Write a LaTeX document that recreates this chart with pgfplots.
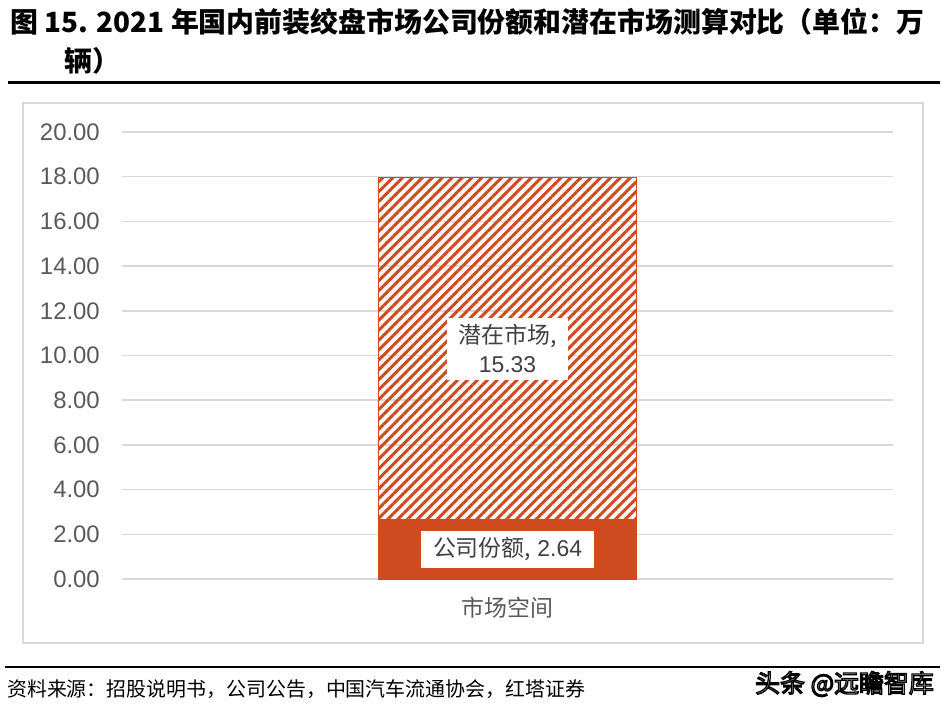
\documentclass[border=0pt]{standalone}
\usepackage{pgfplots}
\pgfplotsset{compat=1.18}
\usepackage{fontspec}
\setmainfont{Liberation Sans}
\newfontfamily\cjk{Noto Sans CJK SC}
\usetikzlibrary{patterns.meta}
\definecolor{barc}{RGB}{207,74,30}
\definecolor{gridc}{RGB}{217,217,217}
\definecolor{txt}{RGB}{89,89,89}
\definecolor{lbl}{RGB}{64,64,64}
\begin{document}
\begin{tikzpicture}
\useasboundingbox (0,0) rectangle (950bp,-709bp);
% title
\node[anchor=west, inner sep=0pt, font=\cjk\bfseries\fontsize{28}{28}\selectfont] at (10bp,-22bp) {图 15. 2021 年国内前装绞盘市场公司份额和潜在市场测算对比（单位：万};
\node[anchor=west, inner sep=0pt, font=\cjk\bfseries\fontsize{28}{28}\selectfont] at (64bp,-61bp) {辆）};
\draw[line width=3bp] (8bp,-82bp) -- (940bp,-82bp);
% frame
\draw[gridc, line width=1.5bp] (23bp,-103bp) rectangle (923bp,-643bp);
\begin{axis}[
  at={(122bp,-579bp)}, anchor=south west,
  scale only axis, width=771bp, height=447bp,
  ymin=0, ymax=20, ytick={0,2,...,20},
  xmin=-1, xmax=1, xtick={0}, xticklabels={{\cjk 市场空间}},
  ybar stacked, bar width=258bp, bar shift=0pt,
  axis line style={draw=none},
  major tick length=0pt,
  ymajorgrids, grid style={gridc, line width=1.5bp},
  /pgf/number format/assume math mode=true,
  yticklabel style={font=\fontsize{24}{24}\selectfont, text=txt, anchor=east, inner sep=0pt, xshift=-22bp,
    /pgf/number format/.cd, fixed, fixed zerofill, precision=2},
  xticklabel style={font=\fontsize{23}{23}\selectfont, text=txt, anchor=north, inner sep=0pt, yshift=-18bp},
  clip=false,
]
\addplot[fill=barc, draw=barc, line width=1bp] coordinates {(0,2.64)};
\addplot[draw=barc, line width=1.5bp, pattern={Lines[angle=45,distance=7bp,line width=3bp]}, pattern color=barc] coordinates {(0,15.33)};
\coordinate (LA) at (axis cs:0,10.3);
\coordinate (LB) at (axis cs:0,1.32);
\end{axis}
\node[fill=white, inner xsep=11bp, inner ysep=7bp, align=center, text=lbl, font=\fontsize{23}{29}\selectfont] at (LA) {{\cjk 潜在市场,}\\15.33};
\node[fill=white, inner xsep=12bp, inner ysep=7bp, text=lbl, font=\fontsize{23}{23}\selectfont] at (LB) {{\cjk 公司份额,} 2.64};
% source
\draw[line width=2bp] (5bp,-667bp) -- (940bp,-667bp);
\node[anchor=west, inner sep=0pt, font=\cjk\fontsize{20}{20}\selectfont] at (7bp,-689bp) {资料来源：招股说明书，公司公告，中国汽车流通协会，红塔证券};
% watermark (outlined text)
\node[anchor=west, inner sep=0pt, font=\cjk\fontsize{25}{25}\selectfont, text=white] at (755bp,-684bp) {\special{pdf:code 0 G 2 Tr 1.3 w}头条 @远瞻智库\special{pdf:code 0 Tr}};
\end{tikzpicture}
\end{document}
